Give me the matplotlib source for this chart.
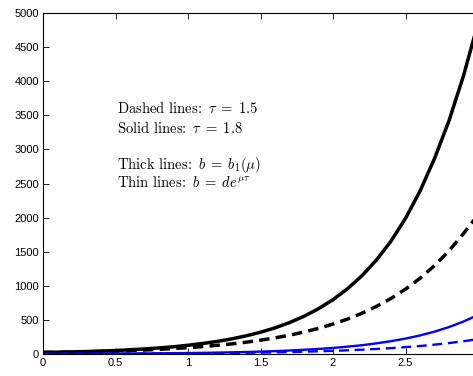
import matplotlib
matplotlib.use("Agg")
import matplotlib.pyplot as plt

# x positions (mu)
x = [0.0, 0.1, 0.2, 0.3, 0.4, 0.5, 0.6, 0.7, 0.8, 0.9,
     1.0, 1.1, 1.2, 1.3, 1.4, 1.5, 1.6, 1.7, 1.8, 1.9,
     2.0, 2.1, 2.2, 2.3, 2.4, 2.5, 2.6, 2.7, 2.8, 2.9, 3.0]

# Thick solid (black): b = b1(mu), tau = 1.8
thick_solid = [24, 27, 31, 36, 43, 51, 62, 74, 89, 106,
               128, 154, 184, 221, 266, 319, 383, 460, 553, 664,
               797, 957, 1148, 1379, 1656, 1989, 2388, 2866, 3420, 4080, 4850]
# Thick dashed (black): b = b1(mu), tau = 1.5
thick_dashed = [22, 24, 28, 32, 37, 43, 50, 58, 68, 80,
                93, 109, 127, 148, 173, 202, 236, 276, 322, 376,
                439, 512, 598, 698, 815, 951, 1110, 1296, 1513, 1766, 2040]
# Thin solid (blue): b = d e^{mu tau}, tau = 1.8
thin_solid = [2, 3, 3, 4, 5, 6, 7, 8, 10, 12,
              14, 17, 20, 24, 29, 35, 42, 51, 62, 74,
              89, 108, 129, 156, 188, 226, 272, 328, 395, 476, 573]
# Thin dashed (blue): b = d e^{mu tau}, tau = 1.5
thin_dashed = [2.1, 2.5, 2.9, 3.3, 3.9, 4.5, 5.3, 6.2, 7.2, 8.4,
               9.9, 11.5, 13.5, 15.7, 18.4, 21.5, 25, 29, 34, 40,
               46, 54, 63, 74, 86, 101, 117, 137, 160, 187, 218]

xticks = [0, 0.5, 1, 1.5, 2, 2.5]
xticklabels = ["0", "0.5", "1", "1.5", "2", "2.5"]
yticks = [0, 500, 1000, 1500, 2000, 2500, 3000, 3500, 4000, 4500, 5000]

annot_lines = [
    ("Dashed lines: $\\,\\tau\\;=\\;1.5$", 3538),
    ("Solid lines: $\\,\\tau\\;=\\;1.8$", 3245),
    ("Thick lines: $\\,b\\;=\\;b_1(\\mu)$", 2708),
    ("Thin lines: $\\,b\\;=\\;de^{\\mu\\tau}$", 2444),
]

plt.rcParams['mathtext.fontset'] = 'cm'
plt.rcParams['axes.unicode_minus'] = False

fig = plt.figure(figsize=(4.73, 3.76), dpi=100)
W, H = 473, 376
ax = fig.add_axes([43 / W, 22 / H, 435 / W, 341 / H])

ax.plot(x, thick_solid, color='black', lw=2.5)
ax.plot(x, thick_dashed, color='black', lw=2.5, dashes=(3.0, 1.8))
ax.plot(x, thin_solid, color='#0000ff', lw=1.7)
ax.plot(x, thin_dashed, color='#0000ff', lw=1.7, dashes=(4.2, 2.4))

ax.set_xlim(0, 3)
ax.set_ylim(0, 5000)
ax.set_xticks(xticks)
ax.set_xticklabels(xticklabels)
ax.set_yticks(yticks)
ax.tick_params(direction='in', length=4, width=0.6, top=True, right=False,
               labelsize=8, pad=3, colors='black')
for lab in ax.get_xticklabels() + ax.get_yticklabels():
    lab.set_fontfamily('Liberation Sans')
for sp in ax.spines.values():
    sp.set_linewidth(0.8)

for txt, yv in annot_lines:
    ax.text(0.51, yv, txt, fontsize=10.5, family='cmr10', va='baseline', ha='left')

fig.savefig('out.png', dpi=100, facecolor='white')
